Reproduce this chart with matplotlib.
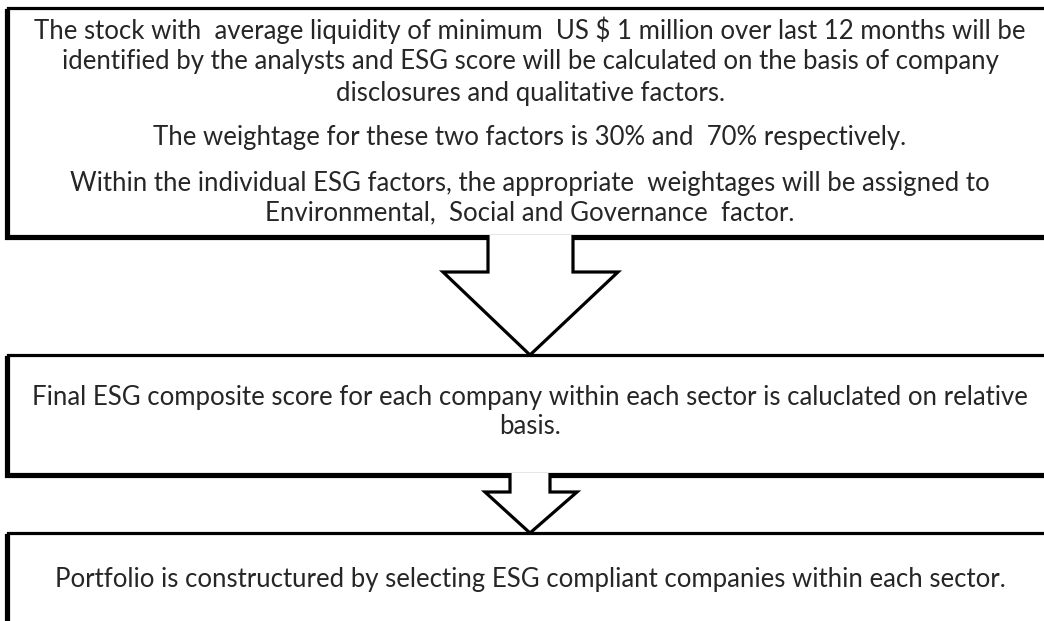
import matplotlib
matplotlib.use('Agg')
import matplotlib.pyplot as plt
from matplotlib.patches import Rectangle, Polygon

# Flowchart content
BOX1_LINES = [
    "The stock with  average liquidity of minimum  US $ 1 million over last 12 months will be",
    "identified by the analysts and ESG score will be calculated on the basis of company",
    "disclosures and qualitative factors.",
    "The weightage for these two factors is 30% and  70% respectively.",
    "Within the individual ESG factors, the appropriate  weightages will be assigned to",
    "Environmental,  Social and Governance  factor.",
]
BOX1_Y = [30, 62, 93, 137, 183, 213]

BOX2_LINES = [
    "Final ESG composite score for each company within each sector is caluclated on relative",
    "basis.",
]
BOX2_Y = [397, 427]

BOX3_LINES = [
    "Portfolio is constructured by selecting ESG compliant companies within each sector.",
]
BOX3_Y = [580]

# box geometry (left, top, right, bottom) in pixels
BOXES = [(8, 8, 1060, 236), (8, 355, 1060, 474), (8, 533, 1060, 640)]
# arrows: shaft left, shaft right, top, shoulder y, head left, head right, tip x, tip y
ARROWS = [(488, 573, 236, 272, 443, 618, 530, 355),
          (510, 550, 474, 492, 485, 577, 530, 533)]

TEXT_COLOR = '#262626'
CX = 530

W, H = 1044, 621
fig = plt.figure(figsize=(W / 100, H / 100), dpi=100)
ax = fig.add_axes([0, 0, 1, 1])
ax.set_xlim(0, W)
ax.set_ylim(H, 0)
ax.axis('off')

lw = 2.3
for (l, t, r, b) in BOXES:
    # shadow for thicker left/bottom border
    ax.add_patch(Rectangle((l - 2, t + 2), r - l, b - t, facecolor='black',
                           edgecolor='black', lw=lw, zorder=1))
    ax.add_patch(Rectangle((l, t), r - l, b - t, facecolor='white',
                           edgecolor='black', lw=lw, zorder=2))

for (sl, sr, top, sh, hl, hr, tx, ty) in ARROWS:
    pts = [(sl, top - 1), (sl, sh), (hl, sh), (tx, ty), (hr, sh), (sr, sh), (sr, top - 1)]
    ax.add_patch(Polygon(pts, closed=False, facecolor='white', edgecolor='black',
                         lw=lw, joinstyle='miter', zorder=3))

font = dict(family='Lato', fontsize=18.5, color=TEXT_COLOR, ha='center', va='center', zorder=5)
for lines, ys in [(BOX1_LINES, BOX1_Y), (BOX2_LINES, BOX2_Y), (BOX3_LINES, BOX3_Y)]:
    for s, y in zip(lines, ys):
        ax.text(CX, y, s, **font)

fig.savefig('out.png', dpi=100, facecolor='white')
